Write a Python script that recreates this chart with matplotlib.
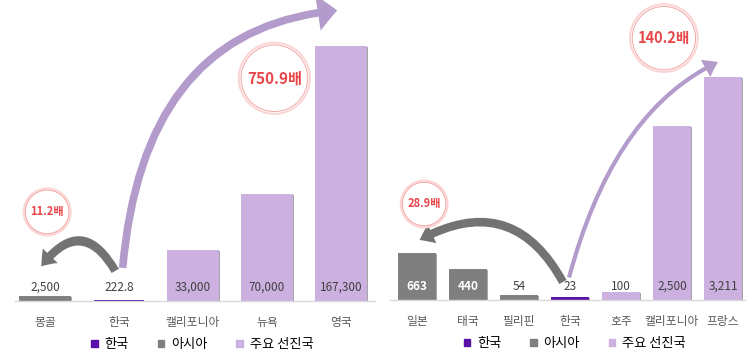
import matplotlib

matplotlib.use('Agg')
import matplotlib.pyplot as plt
from matplotlib.patches import Patch

plt.rcParams['font.family'] = ['Noto Sans CJK KR', 'DejaVu Sans']

# 왼쪽 차트
left_names = ['몽골', '한국', '캘리포니아', '뉴욕', '영국']
left_values = [2500, 222.8, 33000, 70000, 167300]
left_labels = ['2,500', '222.8', '33,000', '70,000', '167,300']
left_groups = ['asia', 'korea', 'adv', 'adv', 'adv']

# 오른쪽 차트
right_names = ['일본', '태국', '필리핀', '한국', '호주', '캘리포니아', '프랑스']
right_values = [663, 440, 54, 23, 100, 2500, 3211]
right_labels = ['663', '440', '54', '23', '100', '2,500', '3,211']
right_groups = ['asia', 'asia', 'asia', 'korea', 'adv', 'adv', 'adv']

colors = {'korea': '#5a10a8', 'asia': '#7f7f7f', 'adv': '#cbb0e0'}
shadow = '#a6a6a6'
ring_txt = '#e8474a'


def draw_bars(ax, names, values, labels, groups, width, shift, white_idx):
    x = list(range(len(names)))
    ax.bar([i + shift for i in x], values, width=width, color=shadow, zorder=1)
    ax.bar(x, values, width=width, color=[colors[g] for g in groups],
           edgecolor=[colors[g] for g in groups], linewidth=1.4, zorder=2)
    tr = ax.get_xaxis_transform()
    for i, lab in enumerate(labels):
        if i in white_idx:
            ax.text(i, 0.045, lab, transform=tr, ha='center', va='center',
                    fontsize=8.5, color='white', fontweight='bold', zorder=5)
        else:
            ax.text(i, 0.045, lab, transform=tr, ha='center', va='center',
                    fontsize=8.5, color='#404040', zorder=5)
    ax.set_xticks(x)
    ax.set_xticklabels(names, fontsize=8.5, color='#595959')
    ax.tick_params(axis='x', length=0, pad=11)
    ax.set_yticks([])
    for s in ['top', 'right', 'left']:
        ax.spines[s].set_visible(False)
    ax.spines['bottom'].set_color('#d9d9d9')
    ax.spines['bottom'].set_linewidth(1)
    handles = [Patch(color=colors['korea'], label='한국'),
               Patch(color=colors['asia'], label='아시아'),
               Patch(color=colors['adv'], label='주요 선진국')]
    ax.legend(handles=handles, loc='center', bbox_to_anchor=(0.52, -0.145),
              ncol=3, frameon=False, fontsize=9.5, handlelength=0.5,
              handleheight=0.5, columnspacing=2.2, handletextpad=0.5)


def ring(ax, x, y, txt, size, pad):
    kw = dict(xycoords=('data', 'axes fraction'), ha='center', va='center',
              fontsize=size, fontweight='bold', annotation_clip=False)
    ax.annotate(txt, (x, y), color='none', zorder=6,
                bbox=dict(boxstyle='circle,pad=%.2f' % (pad + 0.15), fc='white',
                          ec='#fbd3d3', lw=1.4), **kw)
    ax.annotate(txt, (x, y), color=ring_txt, zorder=7,
                bbox=dict(boxstyle='circle,pad=%.2f' % pad, fc='white',
                          ec='#f2a5a5', lw=0.7), **kw)


def arrow(ax, start, end, color, style, conn, zorder=4):
    ax.annotate('', xy=end, xytext=start,
                xycoords=('data', 'axes fraction'),
                textcoords=('data', 'axes fraction'),
                annotation_clip=False, zorder=zorder,
                arrowprops=dict(arrowstyle=style, connectionstyle=conn,
                                color=color, shrinkA=0, shrinkB=0,
                                mutation_scale=10, lw=0))


fig = plt.figure(figsize=(7.55, 3.6), dpi=100)
axl = fig.add_axes([15 / 755, 59 / 360, 360 / 755, 301 / 360])
axr = fig.add_axes([390 / 755, 60 / 360, 355 / 755, 300 / 360])

draw_bars(axl, left_names, left_values, left_labels, left_groups, 0.68, 0.03, [])
axl.set_xlim(-0.405, 4.46)
axl.set_ylim(0, 167300 * 301 / 254)

draw_bars(axr, right_names, right_values, right_labels, right_groups, 0.69, 0.04, [0, 1])
axr.set_xlim(-0.53, 6.43)
axr.set_ylim(0, 3211 * 300 / 222)

# 왼쪽 화살표
arrow(axl, (0.95, 0.10), (-0.05, 0.115), '#737373',
      'simple,head_width=1.5,head_length=1.0,tail_width=0.6', 'arc3,rad=0.75')
arrow(axl, (1.05, 0.11), (3.95, 0.965), '#b39bcc',
      'simple,head_width=2.6,head_length=1.4,tail_width=0.55',
      'angle3,angleA=85,angleB=5', zorder=3)
ring(axl, 0.03, 0.296, '11.2배', 8, 0.45)
ring(axl, 3.1, 0.74, '750.9배', 11, 0.38)

# 오른쪽 화살표
arrow(axr, (2.86, 0.06), (0.05, 0.2), '#737373',
      'simple,head_width=1.5,head_length=1.0,tail_width=0.6', 'arc3,rad=0.5')
arrow(axr, (2.98, 0.075), (5.9, 0.793), '#b39bcc',
      'simple,head_width=1.4,head_length=1.0,tail_width=0.3',
      'angle3,angleA=75,angleB=25', zorder=3)
ring(axr, 0.14, 0.32, '28.9배', 8, 0.45)
ring(axr, 4.84, 0.873, '140.2배', 10.5, 0.38)

fig.savefig('out.png', dpi=100)
